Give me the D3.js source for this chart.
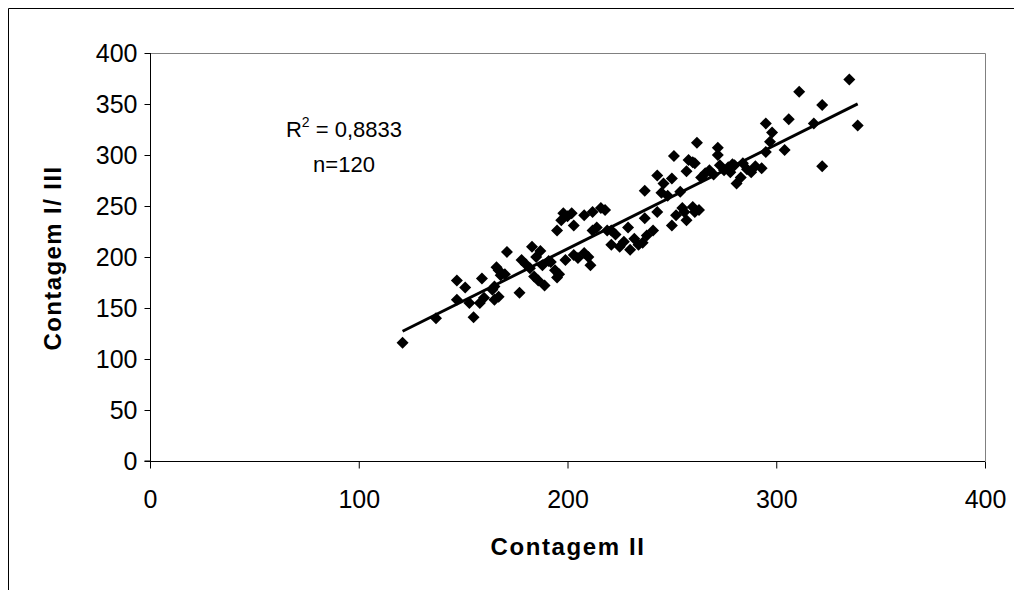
<!DOCTYPE html>
<html><head><meta charset="utf-8">
<script src="https://cdn.jsdelivr.net/npm/d3@7"></script>
<style>body{margin:0;background:#fff}svg{display:block;font-family:"Liberation Sans",Arial,sans-serif}</style>
</head><body><svg id="c" width="1023" height="590"></svg>
<script>
// Contagem II (x) values
const contagemII = [121,137,147,147,151,153,155,158,159,160,164,165,165,166,167,167,168,171,177,178,
180,182,183,185,186,187,188,189,191,192,194,195,195,197,198,199,200,202,203,203,
205,208,208,210,211,212,212,214,216,218,219,221,221,223,225,229,230,232,234,236,
237,237,238,241,243,243,245,246,250,250,251,252,254,255,256,257,257,258,260,260,
261,261,262,264,266,268,270,272,272,273,275,277,278,280,281,283,284,286,288,290,
293,295,295,297,298,304,306,311,318,322,322,335,339,184,170,227,248,263,279,196];
// Contagem I/III (y) values
const contagemI_III = [116,140,177,158,170,155,141,155,179,160,168,158,171,190,161,187,182,205,165,197,
193,189,210,200,177,206,192,172,196,195,187,180,226,236,243,197,240,243,231,202,
199,204,241,200,192,244,226,229,248,246,226,226,212,222,210,229,207,218,212,214,
238,265,221,226,244,280,263,272,231,277,299,241,264,248,244,236,284,295,249,293,
244,292,312,278,282,285,281,307,300,290,285,288,283,290,272,278,292,286,283,289,
287,303,331,313,322,305,335,362,331,349,289,374,329,181,183,215,260,246,291,183];
const xTicks = [0,100,200,300,400];
const yTicks = [0,50,100,150,200,250,300,350,400];
const annotation = ["R", "2", " = 0,8833", "n=120"];
const xTitle = "Contagem II", yTitle = "Contagem I/ III";

const svg = d3.select("#c");
const L = 150, R = 985, T = 53, B = 461;
const x = d3.scaleLinear().domain([0,400]).range([L,R]);
const y = d3.scaleLinear().domain([0,400]).range([B,T]);

// outer frame (top & left)
svg.append("path").attr("d","M8.5,590 L8.5,8.5 L1014,8.5").attr("fill","none").attr("stroke","#000").attr("stroke-width",1);

// plot area border
svg.append("path").attr("d",`M${L},${T+0.5} L${R+0.5},${T+0.5} L${R+0.5},${B}`).attr("fill","none").attr("stroke","#808080").attr("stroke-width",1);

const fontSize = 25;
const yAxis = svg.append("g").attr("transform",`translate(${L+0.5},0)`)
  .call(d3.axisLeft(y).tickValues(yTicks).tickSize(6).tickPadding(7).tickFormat(d3.format("d")));
const xAxis = svg.append("g").attr("transform",`translate(0,${B+0.5})`)
  .call(d3.axisBottom(x).tickValues(xTicks).tickSize(7).tickPadding(22).tickFormat(d3.format("d")));
[xAxis,yAxis].forEach(g=>{
  g.selectAll("text").attr("font-size",fontSize).attr("font-family","Liberation Sans, Arial, sans-serif").attr("fill","#000");
  g.selectAll("line,path").attr("stroke","#000");
});
yAxis.select(".domain").attr("d",`M-6,${B}H0V${T}`);
xAxis.select(".domain").attr("d",`M${L},0H${R}`);

// regression line from data
const n = contagemII.length;
const mx = d3.mean(contagemII), my = d3.mean(contagemI_III);
let sxy=0, sxx=0;
for (let i=0;i<n;i++){ sxy+=(contagemII[i]-mx)*(contagemI_III[i]-my); sxx+=(contagemII[i]-mx)**2; }
const b = sxy/sxx, a = my - b*mx;
const [x0,x1] = d3.extent(contagemII);
svg.append("line").attr("x1",x(x0)).attr("y1",y(a+b*x0)).attr("x2",x(x1)).attr("y2",y(a+b*x1))
  .attr("stroke","#000").attr("stroke-width",3);

// points
const diamond = "M0,-6L6,0L0,6L-6,0Z";
svg.append("g").selectAll("path").data(d3.range(n)).join("path")
  .attr("d",diamond).attr("fill","#000")
  .attr("transform",i=>`translate(${x(contagemII[i])},${y(contagemI_III[i])})`);

// annotation
const t1 = svg.append("text").attr("x",344).attr("y",137).attr("text-anchor","middle").attr("font-size",22);
t1.append("tspan").text(annotation[0]);
t1.append("tspan").text(annotation[1]).attr("font-size",14).attr("dy",-10);
t1.append("tspan").text(annotation[2]).attr("dy",10);
svg.append("text").attr("x",344).attr("y",172).attr("text-anchor","middle").attr("font-size",22).text(annotation[3]);

// axis titles
svg.append("text").attr("x",568).attr("y",555).attr("text-anchor","middle").attr("font-size",24).attr("font-weight","bold").attr("letter-spacing",1.6).text(xTitle);
svg.append("text").attr("transform","translate(61,258) rotate(-90)").attr("text-anchor","middle").attr("font-size",24).attr("font-weight","bold").attr("letter-spacing",1.4).text(yTitle);
</script></body></html>
